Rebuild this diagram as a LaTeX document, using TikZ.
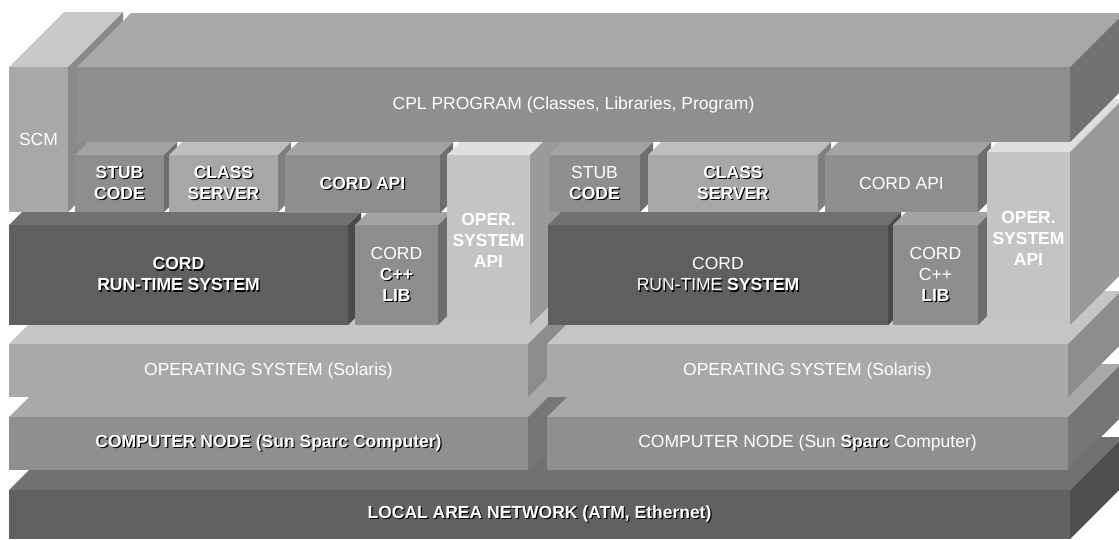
\documentclass[tikz,border=0pt]{standalone}
\usepackage{fontspec}
\setmainfont{Liberation Sans}
\usetikzlibrary{positioning}
% grey tones: F front, T top, S side
\definecolor{lanF}{HTML}{616161}\definecolor{lanT}{HTML}{717171}\definecolor{lanS}{HTML}{4E4E4E}
\definecolor{cnF}{HTML}{8F8F8F}\definecolor{cnT}{HTML}{A9A9A9}\definecolor{cnS}{HTML}{767676}
\definecolor{osF}{HTML}{A9A9A9}\definecolor{osT}{HTML}{C6C6C6}\definecolor{osS}{HTML}{8C8C8C}
\definecolor{rtF}{HTML}{5F5F5F}\definecolor{rtT}{HTML}{707070}\definecolor{rtS}{HTML}{4A4A4A}
\definecolor{midF}{HTML}{8E8E8E}\definecolor{midT}{HTML}{A3A3A3}\definecolor{midS}{HTML}{6E6E6E}
\definecolor{clsF}{HTML}{A7A7A7}\definecolor{clsT}{HTML}{BEBEBE}\definecolor{clsS}{HTML}{7E7E7E}
\definecolor{apiF}{HTML}{C4C4C4}\definecolor{apiT}{HTML}{E0E0E0}\definecolor{apiS}{HTML}{9A9A9A}
\definecolor{scmF}{HTML}{A8A8A8}\definecolor{scmT}{HTML}{C9C9C9}\definecolor{scmS}{HTML}{8A8A8A}
\definecolor{cplF}{HTML}{8F8F8F}\definecolor{cplT}{HTML}{A8A8A8}\definecolor{cplS}{HTML}{727272}
\tikzset{
	stack/.style={x=1pt,y=-1pt},
	lbl/.style={text=white,align=center,inner sep=0pt,
		font=\fontsize{17.5}{21}\selectfont}
}
\newcommand{\shd}[1]{\rlap{\kern1.2pt\raisebox{-1.2pt}{\textcolor{black}{#1}}}#1}
\newcommand{\bsh}[1]{\textbf{\shd{#1}}}
% x1 y1 x2 y2 depth tone name text
\newcommand{\blk}[8]{%
	\fill[#6T] (#1,#2) -- ++(#5,-#5) -- (#3+#5,#2-#5) -- (#3,#2) -- cycle;
	\fill[#6S] (#3,#2) -- ++(#5,-#5) -- (#3+#5,#4-#5) -- (#3,#4) -- cycle;
	\fill[#6F] (#1,#2) rectangle (#3,#4);
	\node[lbl] (#7) at ({(#1+#3)/2},{(#2+#4)/2}) {#8};
}

\begin{document}
\begin{tikzpicture}[stack]
	\useasboundingbox (0,0) rectangle (1119,539);
	\clip (0,0) rectangle (1119,539);
	
	\blk{9}{490}{1070}{539}{53}{lan}{lan}{\bsh{LOCAL AREA NETWORK (ATM, Ethernet)}}
	\blk{9}{417}{528}{470}{53}{cn}{cnl}{\bsh{COMPUTER NODE (Sun Sparc Computer)}}
	\blk{547}{417}{1068}{470}{53}{cn}{cnr}{COMPUTER NODE (Sun \bsh{Sparc} Computer)}
	\blk{9}{344}{528}{397}{53}{os}{osl}{OPERATING SYSTEM (Solaris)}
	\blk{547}{344}{1068}{397}{53}{os}{osr}{OPERATING SYSTEM (Solaris)}
	
	\blk{9}{225}{348}{325}{13}{rt}{rtl}{\bsh{CORD}\\\bsh{RUN-TIME SYSTEM}}
	\blk{355}{225}{438}{325}{13}{mid}{libl}{CORD\\\bsh{C++}\\\bsh{LIB}}
	\blk{9}{67}{68}{212}{55}{scm}{scm}{SCM}
	\blk{75}{155}{164}{212}{13}{mid}{stubl}{\bsh{STUB}\\\bsh{CODE}}
	\blk{169}{155}{278}{212}{13}{cls}{clsl}{\bsh{CLASS}\\\bsh{SERVER}}
	\blk{285}{155}{440}{213}{13}{mid}{apil}{\bsh{CORD API}}
	\blk{447}{155}{530}{325}{53}{api}{osapil}{\textbf{OPER.}\\\textbf{SYSTEM}\\\textbf{API}}
	
	\blk{548}{225}{888}{325}{13}{rt}{rtr}{CORD\\\shd{RUN-TIME} \bsh{SYSTEM}}
	\blk{893}{225}{978}{325}{13}{mid}{libr}{CORD\\C++\\\bsh{LIB}}
	\blk{549}{155}{640}{212}{13}{mid}{stubr}{STUB\\\bsh{CODE}}
	\blk{648}{155}{818}{212}{13}{cls}{clsr}{\bsh{CLASS}\\\bsh{SERVER}}
	\blk{825}{155}{978}{212}{13}{mid}{apir}{CORD API}
	\blk{987}{152}{1070}{325}{53}{api}{osapir}{\textbf{OPER.}\\\textbf{SYSTEM}\\\textbf{API}}
	
	\blk{77}{67}{1070}{142}{54}{cpl}{cpl}{CPL PROGRAM (Classes, Libraries, Program)}
	
\end{tikzpicture}
\end{document}
